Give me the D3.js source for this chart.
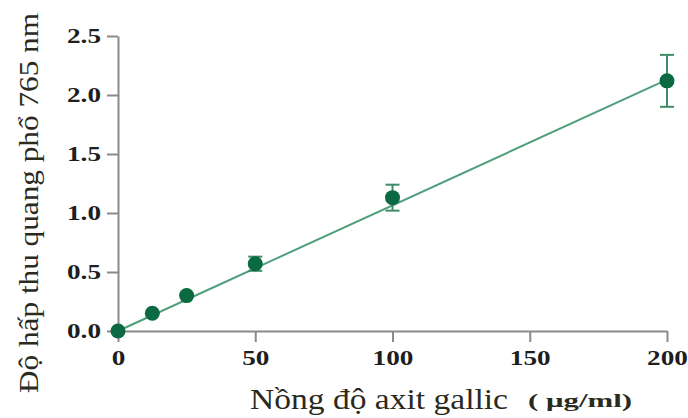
<!DOCTYPE html>
<html><head><meta charset="utf-8">
<script src="https://cdn.jsdelivr.net/npm/d3@7"></script>
<style>body{margin:0;background:#fff;}svg{display:block;}</style>
</head><body>
<script>
const concentrations = [0, 12.5, 25, 50, 100, 200];
const absorbance = [0, 0.15, 0.30, 0.57, 1.13, 2.12];
const errors = [0, 0.02, 0.02, 0.06, 0.11, 0.22];
const trendX = [0, 200];
const trendY = [0, 2.13];
const xTicks = [0, 50, 100, 150, 200];
const yTicks = [0, 0.5, 1.0, 1.5, 2.0, 2.5];
const yTitle = "Độ hấp thu quang phổ 765 nm";
const xTitle = "Nồng độ axit gallic";
const xUnit = "( μg/ml)";

const W = 688, H = 418;
const svg = d3.select("body").append("svg").attr("width", W).attr("height", H);
const x = d3.scaleLinear().domain([0, 200]).range([118, 667]);
const y = d3.scaleLinear().domain([0, 2.5]).range([331, 36]);

const axisColor = "#8a8a8a";
const stretch = 1.36;
const xAxis = svg.append("g").attr("transform", `translate(0,${y(0)})`)
  .call(d3.axisBottom(x).tickValues(xTicks).tickFormat(d3.format("d")).tickSize(11).tickPadding(9).tickSizeOuter(0));
const yAxis = svg.append("g").attr("transform", `translate(${x(0)},0)`)
  .call(d3.axisLeft(y).tickValues(yTicks).tickFormat(d3.format(".1f")).tickSize(11).tickPadding(6).tickSizeOuter(0));
[xAxis, yAxis].forEach(g => {
  g.select(".domain").attr("stroke", axisColor).attr("stroke-width", 2);
  g.selectAll(".tick line").attr("stroke", axisColor).attr("stroke-width", 2);
  g.selectAll(".tick text").attr("fill", "#1e1e1e")
    .style("font-family", "'Liberation Serif'").style("font-weight", "bold").style("font-size", "20px")
    .each(function() {
      const L = this.getComputedTextLength();
      d3.select(this).attr("textLength", L * stretch).attr("lengthAdjust", "spacingAndGlyphs");
    });
});

// trend line
svg.append("path")
  .datum(trendX.map((d, i) => [d, trendY[i]]))
  .attr("d", d3.line().x(d => x(d[0])).y(d => y(d[1])))
  .attr("stroke", "#4f9e7c").attr("stroke-width", 2).attr("fill", "none");

const pts = concentrations.map((c, i) => ({c, a: absorbance[i], e: errors[i]}));
const errColor = "#3f8c68";
const eb = svg.append("g").selectAll("g").data(pts.filter(d => d.e > 0.03)).join("g");
eb.append("line").attr("x1", d => x(d.c)).attr("x2", d => x(d.c))
  .attr("y1", d => y(d.a + d.e)).attr("y2", d => y(d.a - d.e))
  .attr("stroke", errColor).attr("stroke-width", 2);
[1, -1].forEach(s => {
  eb.append("line").attr("x1", d => x(d.c) - 7).attr("x2", d => x(d.c) + 7)
    .attr("y1", d => y(d.a + s * d.e)).attr("y2", d => y(d.a + s * d.e))
    .attr("stroke", errColor).attr("stroke-width", 2);
});

svg.append("g").selectAll("circle").data(pts).join("circle")
  .attr("cx", d => x(d.c)).attr("cy", d => y(d.a)).attr("r", 7.5)
  .attr("fill", "#0b6a42");

// titles
svg.append("text")
  .attr("transform", `translate(38,${(393 + 13) / 2}) rotate(-90)`)
  .attr("text-anchor", "middle").style("font-family", "'Liberation Serif'")
  .style("font-size", "28px").attr("fill", "#2a2a1e")
  .attr("textLength", 380).attr("lengthAdjust", "spacingAndGlyphs").text(yTitle);
svg.append("text").attr("x", 250).attr("y", 409)
  .style("font-family", "'Liberation Serif'").style("font-size", "29px").attr("fill", "#2a2a1e")
  .attr("textLength", 258).attr("lengthAdjust", "spacingAndGlyphs").text(xTitle);
svg.append("text").attr("x", 528).attr("y", 407)
  .style("font-family", "'Liberation Serif'").style("font-weight", "bold").style("font-size", "19px").attr("fill", "#2a2a1e")
  .attr("textLength", 104).attr("lengthAdjust", "spacingAndGlyphs").attr("xml:space", "preserve").text(xUnit);
</script>
</body></html>
